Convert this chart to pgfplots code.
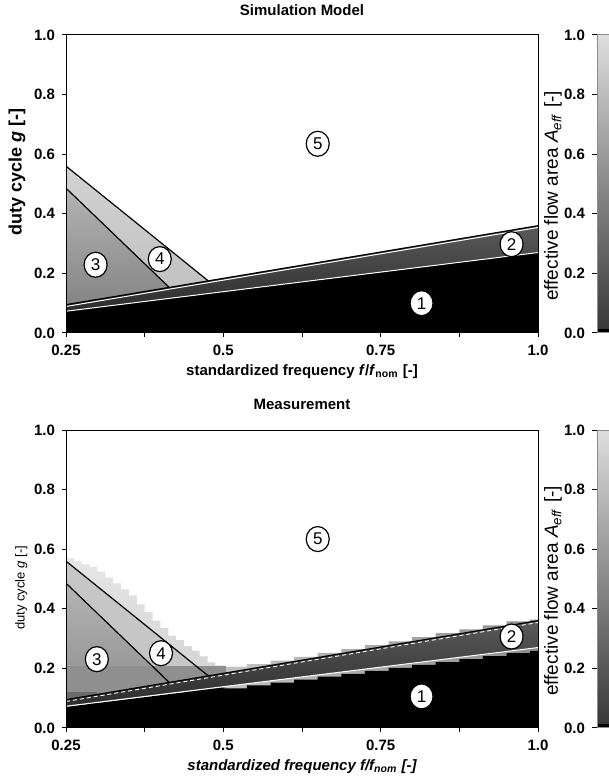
\documentclass[border=0pt]{standalone}
\usepackage{fontspec}
\setmainfont{Liberation Sans}
\usepackage{pgfplots}
\pgfplotsset{compat=1.18}
\usetikzlibrary{shapes.geometric}

\definecolor{rtwo}{HTML}{2C2C2C}
\definecolor{rtwotop}{HTML}{5A5A5A}
\definecolor{rthreelo}{HTML}{858585}
\definecolor{rthreehi}{HTML}{B4B4B4}
\definecolor{rfourlo}{HTML}{C2C2C2}
\definecolor{rfourhi}{HTML}{D2D2D2}
\definecolor{mlightlo}{HTML}{CCCCCC}
\definecolor{mlighthi}{HTML}{E6E6E6}
\definecolor{mrightl}{HTML}{C2C2C2}
\definecolor{mrightr}{HTML}{8E8E8E}
\definecolor{mband}{HTML}{8F8F8F}
\definecolor{mbandlo}{HTML}{6C6C6C}
\definecolor{mfour}{HTML}{C6C6C6}
\definecolor{cblo}{HTML}{383838}
\definecolor{cbhi}{HTML}{DEDEDE}
\definecolor{cbframe}{HTML}{8C8C8C}

\tikzset{
  lbl/.style={ellipse, draw=black, line width=0.6pt, fill=white,
    minimum width=11.5pt, minimum height=12.5pt, inner sep=0pt,
    font=\fontsize{8.5}{9}\selectfont},
}

\pgfplotsset{
  panel/.style={
    scale only axis, width=236pt, height=149pt,
    xmin=0.25, xmax=1, ymin=0, ymax=1,
    xtick={0.25,0.5,0.75,1}, xticklabels={0.25,0.5,0.75,1.0},
    minor xtick={0.375,0.625,0.875},
    ytick={0,0.2,0.4,0.6,0.8,1}, yticklabels={0.0,0.2,0.4,0.6,0.8,1.0},
    tick align=outside, xtick pos=bottom, ytick pos=left,
    major tick length=2pt, minor tick length=2pt,
    tick style={black, line width=0.5pt},
    axis line style={black, line width=0.5pt},
    tick label style={font=\fontsize{7.5}{8}\selectfont\bfseries},
    xticklabel style={yshift=-0.5pt},
    /pgf/number format/assume math mode=true,
    axis on top, no markers,
    title style={at={(axis description cs:0.5,1.044)}, anchor=center,
      font=\fontsize{7.5}{9}\selectfont\bfseries},
    xlabel style={at={(axis description cs:0.5,-0.131)}, anchor=center},
  },
  cbar/.style={
    scale only axis, width=6pt, height=149pt,
    xmin=0, xmax=1, ymin=0, ymax=1,
    xtick=\empty,
    ytick={0,0.2,0.4,0.6,0.8,1}, yticklabels={0.0,0.2,0.4,0.6,0.8,1.0},
    ytick pos=left, tick align=outside, major tick length=2.5pt,
    tick style={black, line width=0.5pt},
    axis line style={cbframe, line width=0.5pt},
    tick label style={font=\fontsize{7.5}{8}\selectfont\bfseries},
    axis on top, no markers,
    ylabel style={at={(axis description cs:-3.67,0.46)}, anchor=center,
      font=\fontsize{9.5}{11}\selectfont},
  },
}

\begin{document}
\begin{tikzpicture}
\path[use as bounding box] (0,0) rectangle (304.5pt,389pt);

% ---------------- Simulation Model ----------------
\begin{axis}[panel, at={(33pt,222.5pt)}, anchor=south west,
  title={Simulation Model},
  xlabel={standardized frequency \textit{f}/\textit{f}\textsubscript{nom} [-]},
  xlabel style={font=\fontsize{7.5}{9}\selectfont\bfseries},
  ylabel={duty cycle \textit{g} [-]},
  ylabel style={at={(axis description cs:-0.104,0.54)}, anchor=center,
    font=\fontsize{9}{10}\selectfont\bfseries},
]
% region 4
\addplot[draw=none, top color=rfourhi, bottom color=rfourlo]
  coordinates {(0.25,0.486) (0.414,0.153) (0.476,0.175) (0.25,0.56)} -- cycle;
% region 3
\addplot[draw=none, top color=rthreehi, bottom color=rthreelo]
  coordinates {(0.25,0.095) (0.414,0.153) (0.25,0.486)} -- cycle;
% region 2
\addplot[draw=none, top color=rtwotop, bottom color=rtwo]
  coordinates {(0.25,0.073) (1,0.27) (1,0.36) (0.25,0.095)} -- cycle;
% region 1
\addplot[draw=none, fill=black]
  coordinates {(0.25,0) (1,0) (1,0.27) (0.25,0.073)} -- cycle;
% boundaries
\addplot[white, line width=0.5pt] coordinates {(0.25,0.073) (1,0.27)};
\addplot[white, line width=0.5pt] coordinates {(0.25,0.089) (1,0.354)};
\addplot[black, line width=0.6pt] coordinates {(0.25,0.095) (1,0.36)};
\addplot[black, line width=0.6pt] coordinates {(0.25,0.486) (0.414,0.153)};
\addplot[black, line width=0.6pt] coordinates {(0.25,0.56) (0.476,0.175)};
\node[lbl] at (axis cs:0.815,0.100) {1};
\node[lbl] at (axis cs:0.958,0.298) {2};
\node[lbl] at (axis cs:0.297,0.229) {3};
\node[lbl] at (axis cs:0.399,0.248) {4};
\node[lbl] at (axis cs:0.650,0.635) {5};
\end{axis}

\begin{axis}[cbar, at={(298.5pt,222.5pt)}, anchor=south west,
  ylabel={effective flow area \textit{A}\textsubscript{\textit{eff}} [-]}]
\addplot[draw=none, bottom color=cblo, top color=cbhi]
  coordinates {(0,0.012) (1,0.012) (1,1) (0,1)} -- cycle;
\addplot[draw=none, fill=black]
  coordinates {(0,0) (1,0) (1,0.012) (0,0.012)} -- cycle;
\end{axis}

% ---------------- Measurement ----------------
\begin{axis}[panel, at={(33pt,25pt)}, anchor=south west,
  title={Measurement},
  xlabel={standardized frequency \textit{f}/\textit{f}\textsubscript{nom} [-]},
  xlabel style={font=\fontsize{7.5}{9}\selectfont\bfseries\itshape},
  ylabel={duty cycle \textit{g} [-]},
  ylabel style={at={(axis description cs:-0.095,0.47)}, anchor=center,
    font=\fontsize{6.5}{8}\selectfont},
]
% measured light area (stepped edge)
\addplot[const plot mark left, draw=none, top color=mlighthi, bottom color=mlightlo]
  coordinates {(0.25,0.57) (0.2625,0.56) (0.275,0.55) (0.2875,0.54) (0.30,0.525)
    (0.3125,0.505) (0.325,0.485) (0.3375,0.465) (0.35,0.445) (0.3625,0.415)
    (0.375,0.39) (0.3875,0.36) (0.40,0.335) (0.4125,0.31) (0.425,0.295)
    (0.4375,0.275) (0.45,0.26) (0.4625,0.24) (0.475,0.22) (0.4875,0.21)
    (0.50,0.205) (0.5375,0.205)} \closedcycle;
% measured area above the upper boundary
\addplot[const plot mark left, draw=none, left color=mrightl, right color=mrightr]
  coordinates {(0.5,0.205) (0.5375,0.214) (0.575,0.226) (0.6125,0.239) (0.65,0.252)
    (0.6875,0.265) (0.725,0.278) (0.7625,0.291) (0.8,0.305) (0.8375,0.318)
    (0.875,0.331) (0.9125,0.344) (0.95,0.358) (0.9875,0.364) (1.0,0.364)} \closedcycle;
% region 4
\addplot[draw=none, fill=mfour]
  coordinates {(0.25,0.486) (0.414,0.153) (0.476,0.175) (0.25,0.56)} -- cycle;
% region 3
\addplot[draw=none, top color=rthreehi, bottom color=mband]
  coordinates {(0.25,0.095) (0.414,0.153) (0.25,0.486)} -- cycle;
% horizontal bands of the measured map
\addplot[draw=none, fill=mband]
  coordinates {(0.25,0.12) (0.505,0.12) (0.505,0.207) (0.25,0.207)} -- cycle;
\addplot[draw=none, fill=mbandlo]
  coordinates {(0.25,0.08) (0.30,0.08) (0.30,0.122) (0.25,0.122)} -- cycle;
% region 2
\addplot[draw=none, top color=rtwotop, bottom color=rtwo]
  coordinates {(0.25,0.073) (1,0.27) (1,0.36) (0.25,0.095)} -- cycle;
% region 1 (stepped top)
\addplot[draw=none, fill=black]
  coordinates {(0.25,0) (0.25,0.071) (0.5,0.136) (0.5,0.133) (0.5375,0.133)
    (0.5375,0.143) (0.575,0.143) (0.575,0.152) (0.6125,0.152) (0.6125,0.162)
    (0.65,0.162) (0.65,0.172) (0.6875,0.172) (0.6875,0.182) (0.725,0.182)
    (0.725,0.192) (0.7625,0.192) (0.7625,0.202) (0.8,0.202) (0.8,0.212)
    (0.8375,0.212) (0.8375,0.221) (0.875,0.221) (0.875,0.231) (0.9125,0.231)
    (0.9125,0.241) (0.95,0.241) (0.95,0.251) (0.9875,0.251) (0.9875,0.259)
    (1,0.259) (1,0)} -- cycle;
% boundaries
\addplot[white, line width=0.5pt] coordinates {(0.25,0.073) (1,0.27)};
\addplot[black, line width=0.6pt] coordinates {(0.25,0.095) (1,0.36)};
\addplot[white, line width=0.45pt, dash pattern=on 2pt off 1.5pt] coordinates {(0.25,0.089) (1,0.354)};
\addplot[black, line width=0.6pt] coordinates {(0.25,0.486) (0.414,0.153)};
\addplot[black, line width=0.6pt] coordinates {(0.25,0.56) (0.476,0.175)};
\node[lbl] at (axis cs:0.815,0.106) {1};
\node[lbl] at (axis cs:0.958,0.307) {2};
\node[lbl] at (axis cs:0.299,0.231) {3};
\node[lbl] at (axis cs:0.401,0.251) {4};
\node[lbl] at (axis cs:0.650,0.634) {5};
\end{axis}

\begin{axis}[cbar, at={(298.5pt,25pt)}, anchor=south west,
  ylabel={effective flow area \textit{A}\textsubscript{\textit{eff}} [-]}]
\addplot[draw=none, bottom color=cblo, top color=cbhi]
  coordinates {(0,0.012) (1,0.012) (1,1) (0,1)} -- cycle;
\addplot[draw=none, fill=black]
  coordinates {(0,0) (1,0) (1,0.012) (0,0.012)} -- cycle;
\end{axis}
\end{tikzpicture}
\end{document}
